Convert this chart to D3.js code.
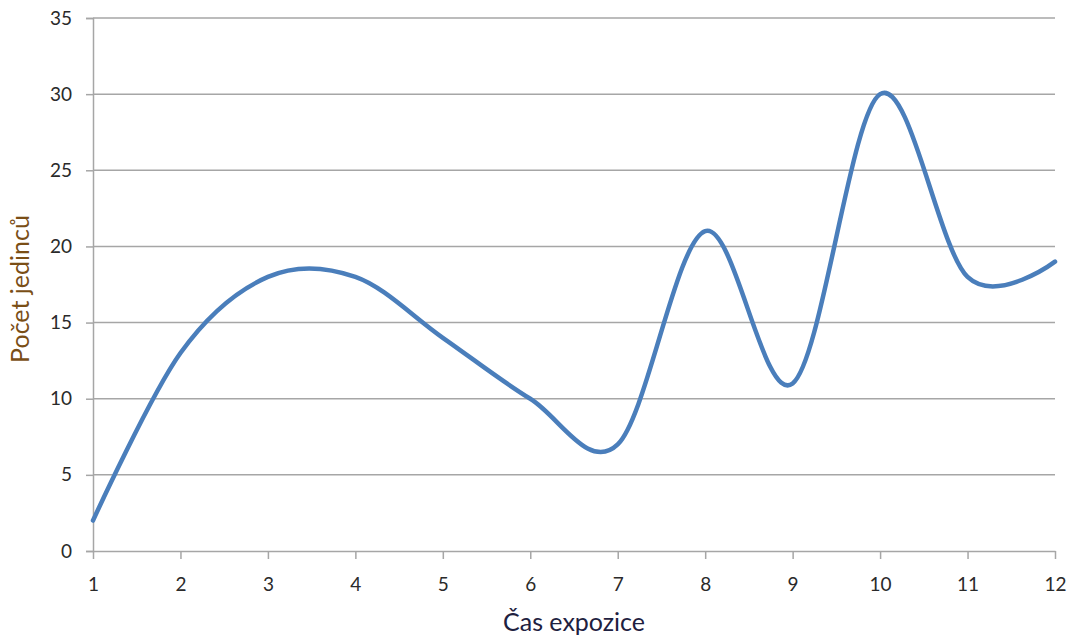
<!DOCTYPE html>
<html>
<head>
<meta charset="utf-8">
<script src="https://d3js.org/d3.v7.min.js"></script>
<style>
body { margin: 0; background: #fff; font-family: Lato, "Open Sans", sans-serif; }
</style>
</head>
<body>
<svg width="1075" height="640" id="chart"></svg>
<script>
// chart values
var xValues = [1, 2, 3, 4, 5, 6, 7, 8, 9, 10, 11, 12];
var counts = [2, 13, 18, 18, 14, 10, 7, 21, 11, 30, 18, 19];
var yTicks = [0, 5, 10, 15, 20, 25, 30, 35];
var xTitle = "Čas expozice";
var yTitle = "Počet jedinců";

var svg = d3.select("#chart");

var x = d3.scaleLinear().domain([1, 12]).range([93, 1055]);
var y = d3.scaleLinear().domain([0, 35]).range([551, 18]);

// horizontal gridlines
svg.append("g")
  .selectAll("line")
  .data(yTicks.filter(function (d) { return d > 0; }))
  .join("line")
  .attr("x1", x(1)).attr("x2", x(12))
  .attr("y1", function (d) { return y(d); })
  .attr("y2", function (d) { return y(d); })
  .attr("stroke", "#a6a6a6")
  .attr("stroke-width", 1.5);

// y axis
var yAxis = svg.append("g")
  .attr("transform", "translate(" + x(1) + ",0)")
  .call(d3.axisLeft(y).tickValues(yTicks).tickSize(7).tickPadding(14));
yAxis.select(".domain").attr("stroke", "#a6a6a6").attr("stroke-width", 1.5);
yAxis.selectAll(".tick line").attr("stroke", "#a6a6a6").attr("stroke-width", 1.5);
yAxis.selectAll(".tick text")
  .attr("font-family", "Lato, 'Open Sans', sans-serif")
  .attr("font-size", 19).attr("fill", "#2a2a2a");

// x axis
var xAxis = svg.append("g")
  .attr("transform", "translate(0," + y(0) + ")")
  .call(d3.axisBottom(x).tickValues(xValues).tickFormat(d3.format("d")).tickSizeInner(8).tickSizeOuter(0).tickPadding(19));
xAxis.select(".domain").attr("stroke", "#a6a6a6").attr("stroke-width", 1.5);
xAxis.selectAll(".tick line").attr("stroke", "#a6a6a6").attr("stroke-width", 1.5);
xAxis.selectAll(".tick text")
  .attr("font-family", "Lato, 'Open Sans', sans-serif")
  .attr("font-size", 19).attr("fill", "#2a2a2a");

// smoothed series line
var line = d3.line()
  .x(function (d, i) { return x(xValues[i]); })
  .y(function (d) { return y(d); })
  .curve(d3.curveCardinal.tension(0));

svg.append("path")
  .datum(counts)
  .attr("fill", "none")
  .attr("stroke", "#4a7ebb")
  .attr("stroke-width", 4.5)
  .attr("stroke-linecap", "round")
  .attr("d", line);

// axis titles
svg.append("text")
  .attr("x", (x(1) + x(12)) / 2)
  .attr("y", 631)
  .attr("text-anchor", "middle")
  .attr("font-size", 25)
  .attr("fill", "#1e2140")
  .text(xTitle);

svg.append("text")
  .attr("transform", "translate(29," + 289 + ") rotate(-90)")
  .attr("text-anchor", "middle")
  .attr("font-size", 25)
  .attr("fill", "#7a4e16")
  .text(yTitle);
</script>
</body>
</html>
